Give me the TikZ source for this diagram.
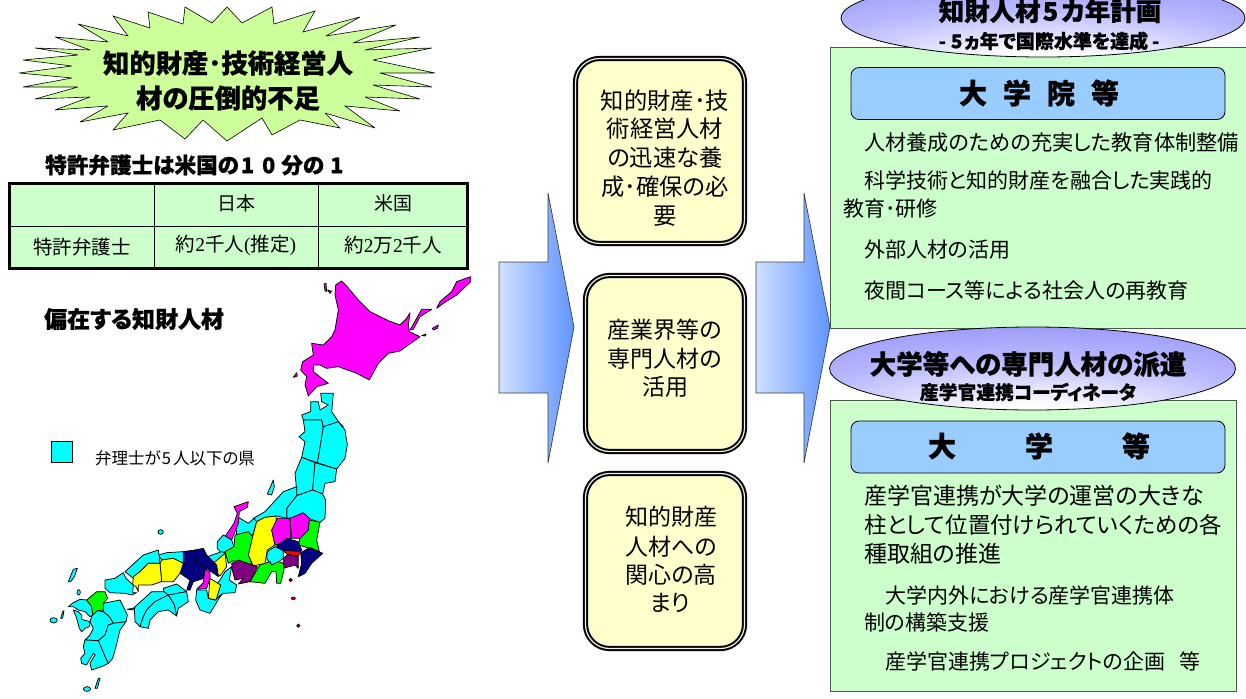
\documentclass[tikz,border=0pt]{standalone}
\usepackage{fontspec}
\usetikzlibrary{shapes.geometric,calc}
\newfontfamily\jp[RawFeature=+palt,BoldFeatures={FakeBold=0.8}]{Noto Sans CJK JP}
\newfontfamily\lat{Liberation Serif}
\newcommand{\fsz}[1]{\fontsize{#1}{#1}\selectfont}
\definecolor{ovalB}{HTML}{B8B8FF}
\definecolor{ovalC}{HTML}{9090F8}
\definecolor{panelG}{HTML}{CCFFCC}
\definecolor{starG}{HTML}{CCFF99}
\definecolor{boxY}{HTML}{FFFFCC}
\definecolor{headB}{HTML}{99CCFF}
\definecolor{navyJ}{HTML}{000080}
\definecolor{purpJ}{HTML}{800080}
\definecolor{arrL}{HTML}{D0E0FF}
\definecolor{arrR}{HTML}{6094FF}
\definecolor{cyanJ}{HTML}{00FFFF}
\definecolor{magJ}{HTML}{FF00FF}
\definecolor{yelJ}{HTML}{FFFF00}
\definecolor{grnJ}{HTML}{00FF00}
\definecolor{redJ}{HTML}{FF0000}
\pgfdeclareradialshading{ovalshade}{\pgfpoint{0bp}{-30bp}}{color(0bp)=(white);color(6bp)=(white);color(28bp)=(ovalB);color(50bp)=(ovalC);color(100bp)=(ovalC)}
\tikzset{
 txt/.style={inner sep=0pt,font=\jp,text=black},
 ln/.style={txt,anchor=west},
 panel/.style={draw=black!65!panelG,fill=panelG,line width=0.9pt},
 headbox/.style={draw=black,fill=headB,rounded corners=8pt,line width=0.8pt},
 yellowbox/.style={draw=black,fill=boxY,double=boxY!70!black!20!white,line width=2pt,double distance=1.2pt,rounded corners=24pt},
 bigarrow/.style={draw=black!75,line width=0.7pt,left color=arrL,right color=arrR},
 oval/.style={draw=black,line width=0.8pt,shading=ovalshade},
 pr/.style={draw=black,line width=0.75pt,line join=round},
 cy/.style={pr,fill=cyanJ},
 mg/.style={pr,fill=magJ},
 yl/.style={pr,fill=yelJ},
 gr/.style={pr,fill=grnJ},
 nv/.style={pr,fill=navyJ},
 pu/.style={pr,fill=purpJ},
 rd/.style={pr,fill=redJ}
}
\begin{document}
\begin{tikzpicture}[x=1pt,y=-1pt]
\useasboundingbox (0,0) rectangle (1246,698);
\clip (0,0) rectangle (1246,698);
\fill[white] (0,0) rectangle (1246,698);
% starburst
\draw[fill=starG,draw=black,line width=0.6pt,line join=miter,miter limit=4] (227,7) -- (242,23) -- (272,7) -- (274,24) -- (315,11) -- (303,32) -- (360,17) -- (326,36) -- (396,25) -- (353,43) -- (420,37) -- (365,50) -- (432,48) -- (373,60) -- (435,73) -- (380,73) -- (432,87) -- (373,85) -- (420,99) -- (365,97) -- (400,111) -- (345,106) -- (375,128) -- (325,113) -- (340,128) -- (300,120) -- (272,135) -- (262,118) -- (227,141) -- (203,120) -- (185,139) -- (160,120) -- (113,130) -- (128,113) -- (80,122) -- (108,106) -- (55,110) -- (90,97) -- (35,99) -- (78,87) -- (23,87) -- (72,78) -- (19,73) -- (72,66) -- (23,60) -- (78,55) -- (35,48) -- (90,50) -- (55,37) -- (108,42) -- (78,24) -- (128,36) -- (113,16) -- (150,28) -- (148,12) -- (183,24) -- (185,7) -- (212,23) -- cycle;
\node[txt,font=\jp\bfseries\fsz{26.3}] (star1) at (228,63) {知的財産･技術経営人};
\node[txt,font=\jp\bfseries\fsz{26.3}] (star2) at (228,98) {材の圧倒的不足};
% table
\node[ln,font=\jp\bfseries\fsz{21.6}] (t1) at (45,165) {特許弁護士は米国の\hspace{2pt}1\hspace{8pt}0\hspace{6pt}分の\hspace{6pt}1};
\draw[fill=panelG,draw=black,line width=3pt] (9,183) rectangle (467,268);
\draw[black,line width=1pt] (9,226) -- (467,226) (154.5,183) -- (154.5,268) (318.5,183) -- (318.5,268);
\node[txt,font=\jp\fsz{19}] (c1) at (236,203) {日本};
\node[txt,font=\jp\fsz{19}] (c2) at (393,203) {米国};
\node[txt,font=\jp\fsz{19.5}] (c3) at (82,247) {特許弁護士};
\node[txt,font=\jp\fsz{19.5}] (c4) at (236,245.5) {約{\lat 2}千人{\lat (}推定{\lat )}};
\node[txt,font=\jp\fsz{19.5}] (c5) at (393,245.5) {約{\lat 2}万{\lat 2}千人};
% map header and legend
\node[ln,font=\jp\bfseries\fsz{23}] (m1) at (44,319) {偏在する知財人材};
\draw[fill=cyanJ,draw=black,line width=0.8pt] (51.7,441.7) rectangle (72.7,462.7);
\node[ln,font=\jp\fsz{16.5}] (m2) at (95,458) {弁理士が\hspace{1pt}5\hspace{2pt}人以下の県};
% map
\begin{scope}[shift={(30,270)},x=0.33333pt,y=-0.33333pt]
\draw[mg] (935,33)--(950,48)--(985,90)--(1020,125)--(1075,152)--(1110,165)--(1130,145)--(1140,128)--(1135,165)--(1138,185)--(1170,200)--(1135,225)--(1110,243)--(1075,250)--(1045,280)--(1018,330)--(980,310)--(925,290)--(890,295)--(870,285)--(850,285)--(850,305)--(895,340)--(860,350)--(835,378)--(825,345)--(830,320)--(812,300)--(818,275)--(850,255)--(845,220)--(880,225)--(905,200)--(915,180)--(925,120)--(915,75)--(917,45)--cycle;
\draw[mg] (882,42)--(888,40)--(890,65)--(885,62)--cycle;
\draw[mg] (893,60)--(905,64)--(900,70)--cycle;
\draw[mg] (790,322)--(800,308)--(802,318)--cycle;
\draw[mg] (1140,180)--(1175,118)--(1205,118)--(1170,140)--(1150,178)--cycle;
\draw[mg] (1220,115)--(1230,95)--(1265,65)--(1280,35)--(1322,20)--(1322,35)--(1280,75)--(1240,100)--cycle;
\draw[mg] (1207,175)--(1225,165)--(1222,175)--(1210,180)--cycle;
\draw[mg] (1175,197)--(1188,192)--(1186,198)--cycle;
% Tohoku
\draw[cy] (872,370)--(910,370)--(905,425)--(925,455)--(940,470)--(880,470)--(875,450)--(820,450)--(815,435)--(842,425)--(842,395)--(865,395)--(870,420)--(895,405)--(875,395)--cycle;
\draw[cy] (820,450)--(875,450)--(880,475)--(868,545)--(862,578)--(815,562)--(825,515)--(807,500)--(825,485)--cycle;
\draw[cy] (880,470)--(925,455)--(945,480)--(952,525)--(945,565)--(920,597)--(862,578)--(868,545)--cycle;
\draw[cy] (815,562)--(855,578)--(848,660)--(800,677)--(798,640)--(795,610)--cycle;
\draw[cy] (855,578)--(920,597)--(915,635)--(885,640)--(878,672)--(848,660)--cycle;
\draw[cy] (800,677)--(848,660)--(878,672)--(887,690)--(885,745)--(870,757)--(835,745)--(770,745)--(770,715)--cycle;
% Chubu north
\draw[cy] (670,745)--(705,725)--(760,665)--(800,650)--(800,677)--(770,715)--(770,745)--(740,738)--(705,742)--(675,757)--cycle;
\draw[cy] (712,672)--(730,630)--(733,650)--(725,675)--cycle;
\draw[cy] (625,742)--(655,760)--(672,745)--(680,755)--(668,795)--(620,795)--(618,770)--cycle;
\draw[mg] (612,710)--(655,695)--(652,712)--(628,725)--(625,760)--(605,810)--(585,800)--(612,760)--(622,730)--cycle;
\draw[cy] (562,815)--(580,795)--(605,810)--(612,832)--(575,850)--(562,835)--cycle;
\draw[cy] (532,860)--(575,845)--(590,850)--(550,885)--cycle;
\draw[gr] (585,845)--(612,830)--(615,795)--(655,785)--(668,800)--(670,850)--(660,860)--(665,885)--(610,872)--(595,880)--cycle;
\draw[yl] (680,755)--(705,742)--(738,738)--(740,765)--(725,780)--(735,825)--(712,840)--(705,880)--(670,888)--(655,855)--(668,800)--cycle;
\draw[mg] (725,780)--(742,745)--(780,745)--(780,765)--(782,805)--(755,820)--(735,825)--cycle;
\draw[mg] (780,745)--(820,728)--(838,745)--(835,780)--(810,805)--(785,805)--cycle;
\draw[gr] (838,750)--(870,757)--(860,810)--(868,845)--(840,835)--(805,825)--(810,805)--(835,780)--cycle;
\draw[nv] (740,828)--(770,805)--(805,815)--(815,840)--(810,848)--(760,840)--(740,835)--cycle;
\draw[nv] (812,848)--(840,832)--(878,850)--(845,880)--(825,910)--(805,920)--(815,880)--cycle;
\draw[rd] (757,840)--(812,845)--(805,858)--(772,853)--cycle;
\draw[pu] (760,865)--(772,855)--(805,860)--(805,895)--(795,885)--(760,895)--cycle;
\draw[cy] (712,845)--(735,830)--(760,842)--(760,865)--(740,880)--(722,885)--(710,865)--cycle;
\draw[gr] (660,935)--(690,885)--(705,880)--(720,875)--(725,885)--(745,875)--(760,880)--(762,900)--(752,940)--(740,940)--(738,905)--(725,905)--(705,940)--cycle;
\draw[pu] (605,880)--(625,870)--(682,890)--(660,935)--(625,942)--(640,925)--(615,930)--(608,905)--cycle;
% Kinki
\draw[cy] (585,905)--(605,890)--(598,930)--(620,945)--(615,968)--(580,970)--(555,995)--(537,985)--(545,960)--(570,930)--cycle;
\draw[cy] (500,960)--(530,960)--(535,985)--(555,990)--(575,972)--(540,1030)--(510,1020)--(497,990)--cycle;
\draw[yl] (540,925)--(572,945)--(558,990)--(535,985)--cycle;
\draw[yl] (550,880)--(585,850)--(590,890)--(570,918)--(555,905)--cycle;
\draw[nv] (460,845)--(495,840)--(500,875)--(530,895)--(522,925)--(490,935)--(480,960)--(470,960)--(480,930)--(450,910)--(450,895)--cycle;
\draw[nv] (495,840)--(520,835)--(530,855)--(560,885)--(565,920)--(530,895)--(500,875)--cycle;
\draw[mg] (525,898)--(540,905)--(540,925)--(530,955)--(500,958)--(520,938)--cycle;
% Chugoku
\draw[cy] (385,855)--(410,848)--(460,845)--(460,880)--(430,865)--(395,870)--cycle;
\draw[cy] (285,905)--(340,855)--(385,840)--(390,880)--(355,880)--(330,905)--(310,925)--cycle;
\draw[yl] (390,880)--(395,870)--(430,865)--(460,880)--(450,910)--(430,935)--(395,935)--cycle;
\draw[yl] (310,920)--(330,905)--(355,880)--(390,880)--(395,935)--(365,945)--(325,945)--(325,965)--(318,950)--(308,945)--cycle;
\begin{scope}[shift={(30,870)}]
\draw[cy] (195,60)--(225,55)--(250,38)--(258,55)--(280,75)--(278,98)--(290,98)--(275,105)--(255,100)--(210,98)--(195,85)--cycle;
% Shikoku
\draw[cy] (370,85)--(410,72)--(440,95)--(385,105)--(372,95)--cycle;
\draw[cy] (385,105)--(440,95)--(445,125)--(415,145)--(410,168)--(403,135)--cycle;
\draw[cy] (283,142)--(310,118)--(335,95)--(372,95)--(385,105)--(345,125)--(320,150)--(310,170)--(300,200)--(285,185)--cycle;
\draw[cy] (300,200)--(310,170)--(320,150)--(345,125)--(385,105)--(403,135)--(410,168)--(385,150)--(355,155)--(330,180)--(325,205)--cycle;
\draw[cy] (262,148)--(285,143)--(278,150)--cycle;
% Kyushu
\draw[cy] (190,130)--(215,125)--(240,120)--(250,140)--(262,165)--(258,185)--(220,190)--(208,170)--(190,155)--cycle;
\draw[cy] (85,140)--(100,128)--(120,118)--(140,120)--(155,140)--(158,165)--(150,170)--(135,155)--(115,150)--(100,140)--cycle;
\draw[cy] (100,150)--(115,155)--(125,165)--(125,178)--(150,185)--(148,200)--(135,205)--(125,215)--(118,205)--(110,175)--cycle;
\draw[cy] (158,165)--(172,152)--(190,155)--(208,170)--(220,190)--(205,195)--(195,225)--(175,242)--(135,240)--(150,225)--(160,205)--(150,185)--(155,170)--cycle;
\draw[cy] (220,190)--(258,185)--(240,210)--(228,260)--(218,295)--(205,310)--(195,290)--(175,242)--(195,225)--(205,195)--cycle;
\draw[cy] (135,240)--(175,242)--(195,290)--(205,310)--(185,320)--(155,330)--(150,310)--(165,285)--(160,280)--(148,300)--(140,315)--(125,310)--(122,295)--(135,280)--(130,260)--cycle;
\draw[gr] (140,120)--(170,95)--(195,95)--(203,115)--(190,130)--(190,150)--(172,152)--(158,165)--(155,140)--cycle;
% islands
\draw[cy] (85,65)--(100,28)--(112,25)--(103,50)--(92,65)--cycle;
\draw[cy] (116,97) ellipse[x radius=5,y radius=8];
\draw[cy] (41,181) ellipse[x radius=11,y radius=8];
\draw[cy] (62,175)--(68,155)--(72,152)--(68,175)--cycle;
\draw[cy] (165,385)--(175,355)--(180,355)--(172,385)--cycle;
\draw[cy] (141,387) ellipse[x radius=11,y radius=7];
\end{scope}
\draw[cy] (392,786) ellipse[x radius=8,y radius=7];
\draw[rd] (782,930) circle[radius=5];
\draw[rd] (790,985) ellipse[x radius=6,y radius=4];
\draw[rd] (805,1067) ellipse[x radius=5,y radius=5];
\end{scope}
% centre arrows
\draw[bigarrow] (499,262) -- (548,262) -- (548,193) -- (574,327) -- (548,463) -- (548,393) -- (499,393) -- cycle;
% yellow boxes
\draw[yellowbox] (575.5,58.5) rectangle (744.5,243.5);
\draw[yellowbox] (585.5,275.5) rectangle (744.5,451.5);
\draw[yellowbox] (585.5,473.5) rectangle (744.5,648.5);
\node[txt,font=\jp\fsz{23.3}] (b1a) at (665,101) {知的財産･技};
\node[txt,font=\jp\fsz{23.3}] (b1b) at (665,129) {術経営人材};
\node[txt,font=\jp\fsz{23.3}] (b1c) at (665,158) {の迅速な養};
\node[txt,font=\jp\fsz{23.3}] (b1d) at (665,187) {成･確保の必};
\node[txt,font=\jp\fsz{23.3}] (b1e) at (665,216) {要};
\node[txt,font=\jp\fsz{23}] (b2a) at (665,330) {産業界等の};
\node[txt,font=\jp\fsz{23}] (b2b) at (665,359) {専門人材の};
\node[txt,font=\jp\fsz{23}] (b2c) at (665,387) {活用};
\node[txt,font=\jp\fsz{23}] (b3a) at (671,517) {知的財産};
\node[txt,font=\jp\fsz{23}] (b3b) at (671,547) {人材への};
\node[txt,font=\jp\fsz{23}] (b3c) at (671,575) {関心の高};
\node[txt,font=\jp\fsz{23}] (b3d) at (670,603) {まり};
% right panels
\draw[panel] (830,47) rectangle (1247,328);
\draw[panel] (830,400) rectangle (1236,691);
\draw[bigarrow] (756,262) -- (804,262) -- (804,193) -- (830,327) -- (804,463) -- (804,393) -- (756,393) -- cycle;
\draw[oval] (1043,18) ellipse[x radius=202,y radius=39];
\node[txt,font=\jp\bfseries\fsz{25.5}] (o1a) at (1050,11) {知財人材\hspace{2pt}5\hspace{3pt}カ年計画};
\node[txt,font=\jp\bfseries\fsz{19}] (o1b) at (1049,41) {-\hspace{5pt}5\hspace{2pt}ヵ年で国際水準を達成\hspace{4pt}-};
\draw[oval] (1032.5,368.5) ellipse[x radius=203,y radius=41.5];
\node[txt,font=\jp\bfseries\fsz{26.5}] (o2a) at (1028,364) {大学等への専門人材の派遣};
\node[txt,font=\jp\bfseries\fsz{18.8}] (o2b) at (1028,392) {産学官連携コーディネータ};
\draw[headbox] (851,67.5) rectangle (1225,119.5);
\draw[headbox] (851,421) rectangle (1225,473);
\node[txt,font=\jp\bfseries\fsz{28}] (h1) at (1039,93) {大\hspace{16pt}学\hspace{16pt}院\hspace{16pt}等};
\node[txt,font=\jp\bfseries\fsz{28}] (h2) at (1039,446) {大\hspace{69pt}学\hspace{69pt}等};
% panel text
\node[ln,font=\jp\fsz{21.2}] (p1) at (864,142) {人材養成のための充実した教育体制整備};
\node[ln,font=\jp\fsz{21}] (p2) at (864,180) {科学技術と知的財産を融合した実践的};
\node[ln,font=\jp\fsz{21}] (p3) at (843,209) {教育･研修};
\node[ln,font=\jp\fsz{21}] (p4) at (864,250) {外部人材の活用};
\node[ln,font=\jp\fsz{21}] (p5) at (864,290) {夜間コース等による社会人の再教育};
\node[ln,font=\jp\fsz{23}] (q1) at (864,496) {産学官連携が大学の運営の大きな};
\node[ln,font=\jp\fsz{22.5}] (q2) at (864,525) {柱として位置付けられていくための各};
\node[ln,font=\jp\fsz{23}] (q3) at (864,554) {種取組の推進};
\node[ln,font=\jp\fsz{21}] (q4) at (885,595) {大学内外における産学官連携体};
\node[ln,font=\jp\fsz{21}] (q5) at (864,622) {制の構築支援};
\node[ln,font=\jp\fsz{21}] (q6) at (885,661) {産学官連携プロジェクトの企画\hspace{14pt}等};
\end{tikzpicture}
\end{document}
